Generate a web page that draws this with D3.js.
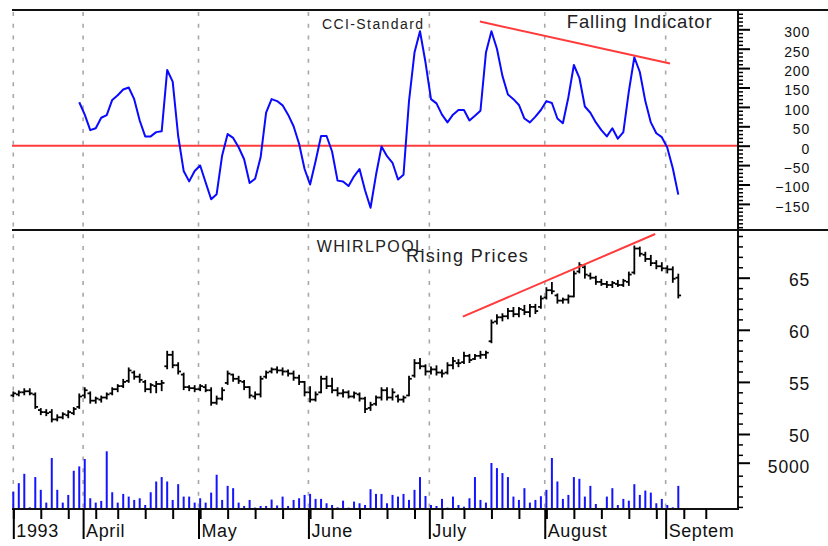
<!DOCTYPE html>
<html>
<head>
<meta charset="utf-8">
<script src="https://cdn.jsdelivr.net/npm/d3@7"></script>
<style>
  body { margin: 0; background: #fff; }
  svg { display: block; font-family: "Liberation Sans", Arial, sans-serif; }
</style>
</head>
<body>
<div id="chart"></div>
<script>
// trading days, day 0 = Mon 15 March 1993, day 121 = Fri 3 Sept 1993
const monthLabels = ["1993", "April", "May", "June", "July", "August", "Septem"];
const monthStartDay = [0, 13, 34, 54, 76, 97, 119];
const weekStartDay = [0, 5, 10, 15, 19, 24, 29, 34, 39, 44, 49, 54, 58, 63, 68, 73, 78, 82, 87, 92, 97, 102, 107, 112, 117, 122, 126];

const cciTicks = [-150, -100, -50, 0, 50, 100, 150, 200, 250, 300];
const priceTicks = [50, 55, 60, 65];
const volumeTicks = [5000];

const cciFirstDay = 12;
const cci = [
  112, 80, 40, 45, 72, 79, 118, 130, 145, 150,
  120, 65, 24, 24, 35, 37, 195, 165, 25, -65,
  -92, -65, -51, -95, -138, -125, -25, 30, 20, -4,
  -35, -96, -85, -30, 85, 120, 115, 104, 80, 50,
  5, -60, -100, -40, 25, 25, -15, -90, -92, -104,
  -79, -60, -115, -160, -75, -2, -27, -44, -87, -75,
  115, 240, 295, 215, 120, 109, 80, 60, 80, 92,
  92, 65, 77, 90, 240, 295, 250, 180, 132, 120,
  105, 70, 60, 75, 92, 115, 110, 70, 58, 125,
  208, 175, 101, 85, 60, 40, 24, 45, 18, 35,
  140, 228, 190, 115, 60, 32, 22, -5, -58, -126
];

const open = [
  53.7, 53.8, 54.0, 54.1, 53.8, 52.3, 52.1, 52.1, 51.4, 51.6,
  51.8, 52.0, 52.6, 53.7, 53.9, 53.2, 53.3, 53.5, 53.9, 54.3,
  54.6, 55.1, 55.9, 55.5, 55.0, 54.3, 54.6, 54.8, 56.5, 57.6,
  56.6, 55.7, 54.5, 54.4, 54.3, 54.5, 54.2, 53.0, 53.4, 54.9,
  55.7, 55.3, 55.0, 54.5, 53.6, 53.8, 55.5, 56.0, 56.2, 56.1,
  56.0, 55.8, 55.4, 55.0, 54.0, 53.3, 54.0, 55.3, 54.6, 54.2,
  53.9, 54.0, 53.6, 53.8, 53.4, 52.5, 52.9, 53.5, 54.2, 53.5,
  53.6, 53.3, 53.7, 55.6, 56.8, 56.5, 56.0, 56.2, 55.9, 55.9,
  56.6, 56.8, 56.9, 57.5, 57.2, 57.5, 57.6, 58.9, 60.8, 61.2,
  61.3, 61.8, 61.5, 61.9, 61.7, 62.2, 62.2, 63.1, 63.8, 63.3,
  62.8, 62.9, 63.2, 65.6, 66.0, 65.2, 65.0, 64.6, 64.4, 64.3,
  64.4, 64.3, 64.6, 65.5, 67.8, 67.2, 66.8, 66.4, 66.1, 65.9,
  65.8, 65.0
];
const high = [
  54.0, 54.1, 54.3, 54.3, 53.9, 52.4, 52.3, 52.3, 51.8, 52.0,
  52.2, 52.5, 53.8, 54.4, 54.0, 53.5, 53.6, 53.9, 54.4, 54.7,
  55.2, 56.3, 56.0, 55.7, 55.1, 54.8, 55.0, 55.1, 57.9, 57.9,
  56.8, 55.8, 54.6, 54.6, 54.7, 54.7, 54.4, 53.6, 54.4, 56.0,
  55.7, 55.5, 55.1, 54.5, 54.0, 55.5, 56.0, 56.3, 56.4, 56.3,
  56.1, 56.0, 55.6, 55.0, 54.5, 54.0, 55.5, 55.5, 55.3, 54.4,
  54.2, 54.1, 54.0, 53.9, 53.5, 53.0, 53.6, 54.4, 54.4, 54.3,
  53.7, 53.6, 55.5, 57.1, 57.2, 56.6, 56.4, 56.5, 56.1, 56.8,
  57.3, 57.1, 57.8, 57.6, 57.6, 57.9, 57.9, 60.9, 61.4, 61.5,
  62.0, 62.1, 62.1, 62.3, 62.4, 62.4, 63.2, 64.0, 64.5, 63.4,
  63.0, 63.3, 65.6, 66.4, 66.1, 65.4, 65.1, 64.8, 64.6, 64.6,
  64.7, 64.8, 65.5, 68.0, 67.9, 67.4, 67.1, 66.6, 66.4, 66.1,
  66.0, 65.3
];
const low = [
  53.6, 53.7, 53.8, 53.8, 52.5, 51.9, 51.8, 51.2, 51.3, 51.5,
  51.6, 51.9, 52.5, 53.5, 53.0, 53.0, 53.1, 53.4, 53.8, 54.1,
  54.5, 55.0, 55.3, 55.0, 54.1, 54.0, 54.0, 54.2, 56.3, 56.4,
  55.8, 54.3, 54.2, 54.1, 54.2, 54.1, 52.8, 52.9, 53.3, 54.8,
  55.1, 54.9, 54.3, 53.5, 53.4, 53.6, 55.4, 55.9, 55.9, 55.7,
  55.6, 55.2, 54.8, 53.7, 53.1, 53.2, 54.0, 54.4, 54.0, 53.7,
  53.6, 53.5, 53.5, 53.2, 52.1, 52.3, 52.8, 53.3, 53.3, 53.3,
  53.1, 53.1, 53.7, 55.5, 56.3, 55.7, 55.8, 55.7, 55.5, 55.8,
  56.3, 56.5, 56.8, 56.9, 57.2, 57.3, 57.3, 58.8, 60.6, 60.9,
  61.1, 61.3, 61.3, 61.5, 61.3, 61.6, 62.1, 63.0, 63.5, 62.6,
  62.6, 62.6, 63.2, 65.5, 65.0, 64.9, 64.4, 64.3, 64.1, 64.1,
  64.2, 64.2, 64.3, 65.4, 67.1, 66.6, 66.2, 65.9, 65.7, 65.5,
  64.6, 63.1
];
const close = [
  53.9, 54.0, 54.1, 53.9, 52.6, 52.1, 52.0, 51.4, 51.6, 51.9,
  52.1, 52.4, 53.6, 54.2, 53.2, 53.4, 53.5, 53.8, 54.3, 54.6,
  55.0, 56.1, 55.5, 55.2, 54.3, 54.7, 54.8, 54.9, 57.6, 56.6,
  56.0, 54.5, 54.4, 54.3, 54.6, 54.2, 53.0, 53.4, 54.2, 55.8,
  55.3, 55.1, 54.5, 53.7, 53.8, 55.3, 55.9, 56.2, 56.1, 56.0,
  55.8, 55.4, 55.0, 54.0, 53.3, 53.8, 55.3, 54.6, 54.2, 53.9,
  54.0, 53.6, 53.9, 53.4, 52.4, 52.8, 53.5, 54.2, 53.5, 54.0,
  53.3, 53.5, 55.3, 56.8, 56.5, 56.0, 56.2, 55.9, 55.8, 56.6,
  57.0, 56.8, 57.5, 57.1, 57.5, 57.6, 57.8, 60.7, 61.2, 61.3,
  61.8, 61.5, 62.0, 61.7, 62.2, 61.8, 63.0, 63.8, 63.7, 62.8,
  62.9, 63.2, 65.4, 66.2, 65.3, 65.0, 64.6, 64.4, 64.3, 64.5,
  64.3, 64.7, 65.3, 67.8, 67.3, 66.8, 66.4, 66.1, 65.9, 65.8,
  64.9, 63.3
];
const volume = [
  1880, 2790, 3800, 180, 3450, 2070, 690, 5510, 2070, 690,
  1520, 4130, 4600, 5400, 1160, 690, 870, 6230, 1810, 690,
  1630, 1340, 980, 1160, 430, 1810, 2970, 3450, 2970, 980,
  2680, 1340, 1340, 690, 1160, 690, 1770, 3700, 980, 2500,
  2250, 690, 330, 980, 150, 330, 330, 1020, 380, 1340,
  330, 980, 1160, 1520, 1630, 1090, 1090, 620, 430, 180,
  900, 150, 800, 620, 430, 2140, 1630, 1630, 620, 1520,
  1340, 1630, 980, 2070, 3450, 1410, 430, 330, 1090, 150,
  1340, 430, 250, 1160, 3450, 980, 690, 4970, 4420, 3880,
  3450, 1340, 980, 2250, 690, 980, 1380, 2070, 5510, 2970,
  1090, 1520, 3450, 3260, 1340, 2500, 540, 100, 1340, 2250,
  430, 1090, 900, 2680, 1520, 1990, 1770, 620, 1090, 430,
  180, 2500
];

// trend lines: [day, value]
const fallingLine = [[84.9, 320], [119.5, 212]];
const risingLine = [[81.8, 61.26], [116.8, 69.19]];

class CciChart {
  constructor(config) {
    this.config = config;
    this.svg = null;
    this.createSvg();
    this.createScales();
  }

  createSvg() {
    this.svg = d3.select(this.config.div)
      .append("svg")
      .attr("width", this.config.width)
      .attr("height", this.config.height);
  }

  createScales() {
    this.x = d3.scaleLinear().domain([0, 121]).range([13.3, 678.3]);
    this.yCci = d3.scaleLinear().domain([0, 300]).range([145.7, 29.3]);
    this.yPrice = d3.scaleLinear().domain([50, 65]).range([434, 277.7]);
    this.yVol = d3.scaleLinear().domain([0, 5000]).range([509, 462.7]);
  }

  monthTickDays() {
    return monthStartDay.map((d, i) => i === 0 ? d : d - 0.3);
  }

  renderGrid() {
    const f = this.config.frame;
    this.svg.append("g")
      .selectAll("line")
      .data(this.monthTickDays())
      .enter()
      .append("line")
        .attr("x1", d => this.x(d))
        .attr("x2", d => this.x(d))
        .attr("y1", f.top + 2)
        .attr("y2", f.bottom)
        .attr("stroke", "#a8a8a8")
        .attr("stroke-width", 1.6)
        .attr("stroke-dasharray", "4 7.7");
  }

  renderCci() {
    const f = this.config.frame;
    this.svg.append("line")
      .attr("x1", f.left).attr("x2", f.right)
      .attr("y1", this.yCci(0)).attr("y2", this.yCci(0))
      .attr("stroke", "#ff3b3b")
      .attr("stroke-width", 2);

    const line = d3.line()
      .x((d, i) => this.x(cciFirstDay + i))
      .y(d => this.yCci(d));

    this.svg.append("path")
      .datum(cci)
      .attr("d", line)
      .attr("fill", "none")
      .attr("stroke", "#0a0aff")
      .attr("stroke-width", 2)
      .attr("stroke-linejoin", "round");

    this.svg.append("path")
      .datum(fallingLine)
      .attr("d", d3.line().x(d => this.x(d[0])).y(d => this.yCci(d[1])))
      .attr("stroke", "#ff3b3b")
      .attr("stroke-width", 2);
  }

  renderPrices() {
    const bars = this.svg.append("g")
      .attr("stroke", "#000")
      .attr("stroke-width", 1.8)
      .selectAll("g")
      .data(open.map((o, i) => ({ day: i, o: o, h: high[i], l: low[i], c: close[i] })))
      .enter()
      .append("g");

    bars.append("line")
      .attr("x1", d => this.x(d.day)).attr("x2", d => this.x(d.day))
      .attr("y1", d => this.yPrice(d.h) - 0.9)
      .attr("y2", d => this.yPrice(d.l) + 0.9);
    bars.append("line")
      .attr("x1", d => this.x(d.day) - 2.8).attr("x2", d => this.x(d.day))
      .attr("y1", d => this.yPrice(d.o)).attr("y2", d => this.yPrice(d.o));
    bars.append("line")
      .attr("x1", d => this.x(d.day)).attr("x2", d => this.x(d.day) + 2.8)
      .attr("y1", d => this.yPrice(d.c)).attr("y2", d => this.yPrice(d.c));

    this.svg.append("path")
      .datum(risingLine)
      .attr("d", d3.line().x(d => this.x(d[0])).y(d => this.yPrice(d[1])))
      .attr("stroke", "#ff3b3b")
      .attr("stroke-width", 2);
  }

  renderVolume() {
    this.svg.append("g")
      .selectAll("line")
      .data(volume)
      .enter()
      .append("line")
        .attr("x1", (d, i) => this.x(i))
        .attr("x2", (d, i) => this.x(i))
        .attr("y1", this.yVol(0))
        .attr("y2", d => this.yVol(d))
        .attr("stroke", "#1414ff")
        .attr("stroke-width", 2);
  }

  renderFrame() {
    const f = this.config.frame;
    const g = this.svg.append("g").attr("stroke", "#111").attr("stroke-width", 2);
    g.append("line").attr("x1", f.left).attr("x2", this.config.width).attr("y1", f.top).attr("y2", f.top);
    g.append("line").attr("x1", f.left).attr("x2", this.config.width).attr("y1", f.mid).attr("y2", f.mid);
    g.append("line").attr("x1", f.left).attr("x2", f.right).attr("y1", f.bottom).attr("y2", f.bottom);
    g.append("line").attr("x1", f.right).attr("x2", f.right).attr("y1", f.top).attr("y2", f.bottom + 1);
  }

  rightAxis(scale, majors, minors, labelDy, fontSize) {
    const f = this.config.frame;
    this.svg.append("g")
      .attr("transform", `translate(${f.right},0)`)
      .call(d3.axisRight(scale).tickValues(minors).tickSize(5).tickFormat(""))
      .call(g => g.select(".domain").remove())
      .call(g => g.selectAll("line").attr("stroke-width", 1.5));

    this.svg.append("g")
      .attr("transform", `translate(${f.right},0)`)
      .call(d3.axisRight(scale).tickValues(majors).tickSize(12).tickFormat(d3.format("d")))
      .call(g => g.select(".domain").remove())
      .call(g => g.selectAll("line").attr("stroke-width", 2))
      .call(g => g.selectAll("text")
        .attr("x", 72)
        .attr("y", labelDy)
        .attr("text-anchor", "end")
        .attr("fill", "#111")
        .style("font-size", fontSize + "px")
        .style("letter-spacing", "0.8px")
        .style("font-family", "'Liberation Sans', Arial, sans-serif"));
  }

  createAxis() {
    const f = this.config.frame;

    const cciMinor = d3.range(-210, 350, 10).filter(v => v % 50 !== 0 || !cciTicks.includes(v));
    this.rightAxis(this.yCci, cciTicks, cciMinor, 3, 14);

    const priceMinor = d3.range(43, 70).filter(v => v !== 47 && !priceTicks.includes(v));
    this.rightAxis(this.yPrice, priceTicks, priceMinor, 2, 17.5);
    this.rightAxis(this.yVol, volumeTicks, [], 4, 17.5);

    this.svg.append("g")
      .attr("transform", `translate(0,${f.bottom})`)
      .call(d3.axisBottom(this.x).tickValues(weekStartDay).tickSize(10).tickFormat(""))
      .call(g => g.select(".domain").remove())
      .call(g => g.selectAll("line").attr("stroke-width", 2));

    const monthAxis = this.svg.append("g")
      .attr("transform", `translate(0,${f.bottom})`)
      .call(d3.axisBottom(this.x).tickValues(this.monthTickDays()).tickSize(30).tickFormat(""))
      .call(g => g.select(".domain").remove())
      .call(g => g.selectAll("line").attr("stroke-width", 2));

    this.svg.append("g")
      .selectAll("text")
      .data(this.monthTickDays())
      .enter()
      .append("text")
        .attr("x", d => this.x(d) + 3)
        .attr("y", 537)
        .attr("fill", "#111")
        .style("font-size", "18px")
        .style("letter-spacing", "0.6px")
        .text((d, i) => monthLabels[i]);
  }

  renderTitles() {
    const titles = [
      { text: "CCI-Standard", x: 322, y: 29.3, size: 14, ls: 1.4 },
      { text: "Falling Indicator", x: 566.7, y: 28.3, size: 18.5, ls: 0.9 },
      { text: "WHIRLPOOL", x: 316.7, y: 251.7, size: 16, ls: 1.4 },
      { text: "Rising Prices", x: 406, y: 262.3, size: 18, ls: 1.4 }
    ];
    this.svg.append("g")
      .selectAll("text")
      .data(titles)
      .enter()
      .append("text")
        .attr("x", d => d.x)
        .attr("y", d => d.y)
        .attr("fill", "#222")
        .style("font-size", d => d.size + "px")
        .style("letter-spacing", d => d.ls + "px")
        .text(d => d.text);
  }
}

const chart = new CciChart({
  div: "#chart",
  width: 828,
  height: 546,
  frame: { left: 12, right: 738, top: 10, mid: 230, bottom: 509 }
});
chart.renderGrid();
chart.renderCci();
chart.renderPrices();
chart.renderVolume();
chart.renderFrame();
chart.createAxis();
chart.renderTitles();
</script>
</body>
</html>
